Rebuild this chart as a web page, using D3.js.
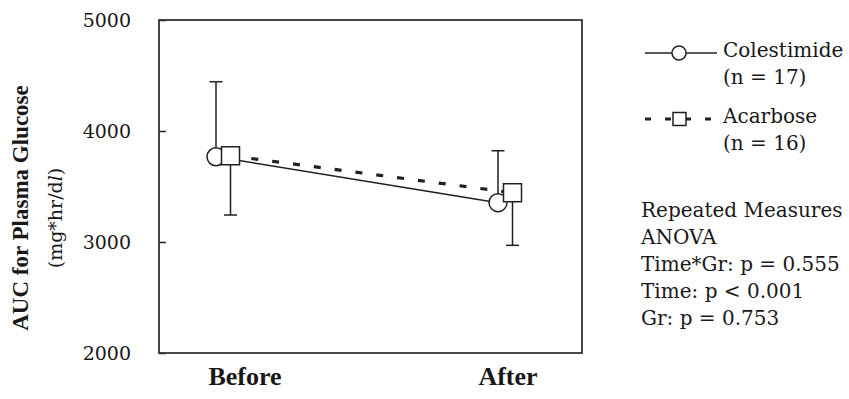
<!DOCTYPE html>
<html>
<head>
<meta charset="utf-8">
<script src="https://cdn.jsdelivr.net/npm/d3@7"></script>
<style>
  body { margin: 0; background: #fff; }
  svg { display: block; }
  text { fill: #1a1718; }
</style>
</head>
<body>
<script>
var times = ["Before", "After"];
var colestimideMean = [3768, 3354];
var colestimideSD = [676, 468];
var acarboseMean = [3777, 3444];
var acarboseSD = [534, 474];
var yTicks = [2000, 3000, 4000, 5000];
var legendLabels = ["Colestimide", "(n = 17)", "Acarbose", "(n = 16)"];
var statLines = ["Repeated Measures", "ANOVA", "Time*Gr: p = 0.555", "Time: p < 0.001", "Gr: p = 0.753"];

var ink = "#231f20";
var serif = "'DejaVu Serif', serif";

function drawChart () {
    var width = 849,
        height = 399;

    var svg = d3.select("body").append("svg")
        .attr("width", width)
        .attr("height", height);

    var left = 159, right = 582, top = 20, bottom = 353;

    var x = d3.scalePoint().domain(times).range([223, 505]);
    var y = d3.scaleLinear().domain([2000, 5000]).range([bottom, top]);

    // series: circle sits a bit left, square a bit right
    var series = [
        { name: "colestimide", mean: colestimideMean, sd: colestimideSD, dx: -7, dir: 1 },
        { name: "acarbose", mean: acarboseMean, sd: acarboseSD, dx: 7.5, dir: -1 }
    ];
    series.forEach(function (s) {
        s.points = times.map(function (t, i) {
            return { t: t, x: x(t) + s.dx, m: s.mean[i], e: s.mean[i] + s.dir * s.sd[i] };
        });
    });

    // y axis, ticks inward
    var yAxis = svg.append("g")
        .attr("transform", "translate(" + left + ",0)")
        .call(d3.axisLeft(y).tickValues(yTicks).tickFormat(d3.format("d")).tickSize(-7).tickPadding(28));
    yAxis.select(".domain").remove();
    yAxis.selectAll("line").attr("stroke", ink).attr("stroke-width", 1.5);
    yAxis.selectAll("text")
        .style("font-family", serif)
        .style("font-size", "19px")
        .attr("fill", "#1a1718");

    // frame
    svg.append("rect")
        .attr("x", left).attr("y", top)
        .attr("width", right - left).attr("height", bottom - top)
        .attr("fill", "none")
        .attr("stroke", "#333")
        .attr("stroke-width", 1.8);

    // category labels
    var labelNudge = { "Before": 22, "After": 3 };
    svg.selectAll(".xlab")
        .data(times)
        .enter().append("text")
        .attr("class", "xlab")
        .attr("x", function (d) { return x(d) + labelNudge[d]; })
        .attr("y", 385)
        .attr("text-anchor", "middle")
        .style("font-family", "'Liberation Serif', serif")
        .style("font-weight", "bold")
        .style("font-size", "26px")
        .text(function (d) { return d; });

    // y title
    svg.append("text")
        .attr("transform", "translate(28,208) rotate(-90)")
        .attr("text-anchor", "middle")
        .style("font-family", "'Liberation Serif', serif")
        .style("font-weight", "bold")
        .style("font-size", "23px")
        .text("AUC for  Plasma Glucose");
    var unit = svg.append("text")
        .attr("transform", "translate(62,218) rotate(-90)")
        .attr("text-anchor", "middle")
        .style("font-family", serif)
        .style("font-size", "19px");
    unit.append("tspan").text("(mg*hr/d");
    unit.append("tspan").style("font-style", "italic").text("l");
    unit.append("tspan").text(")");

    // error bars
    series.forEach(function (s) {
        var g = svg.append("g").attr("class", "err-" + s.name);
        g.selectAll(".stem")
            .data(s.points)
            .enter().append("line")
            .attr("x1", function (d) { return d.x; })
            .attr("x2", function (d) { return d.x; })
            .attr("y1", function (d) { return y(d.m); })
            .attr("y2", function (d) { return y(d.e); })
            .attr("stroke", ink).attr("stroke-width", 1.5);
        g.selectAll(".cap")
            .data(s.points)
            .enter().append("line")
            .attr("x1", function (d) { return d.x - 6.5; })
            .attr("x2", function (d) { return d.x + 6.5; })
            .attr("y1", function (d) { return y(d.e); })
            .attr("y2", function (d) { return y(d.e); })
            .attr("stroke", ink).attr("stroke-width", 1.5);
    });

    var line = d3.line()
        .x(function (d) { return d.x; })
        .y(function (d) { return y(d.m); });

    svg.append("path")
        .datum(series[0].points)
        .attr("d", line)
        .attr("fill", "none")
        .attr("stroke", ink)
        .attr("stroke-width", 1.4);

    svg.append("path")
        .datum(series[1].points)
        .attr("d", line)
        .attr("fill", "none")
        .attr("stroke", ink)
        .attr("stroke-width", 3.2)
        .attr("stroke-dasharray", "7,14");

    // markers
    svg.selectAll(".circ")
        .data(series[0].points)
        .enter().append("circle")
        .attr("cx", function (d) { return d.x; })
        .attr("cy", function (d) { return y(d.m); })
        .attr("r", 9)
        .attr("fill", "#fff")
        .attr("stroke", ink)
        .attr("stroke-width", 1.5);

    svg.selectAll(".sq")
        .data(series[1].points)
        .enter().append("rect")
        .attr("x", function (d) { return d.x - 9; })
        .attr("y", function (d) { return y(d.m) - 9; })
        .attr("width", 18)
        .attr("height", 18)
        .attr("fill", "#fff")
        .attr("stroke", ink)
        .attr("stroke-width", 1.5);

    // legend
    var lg = svg.append("g");
    lg.append("line")
        .attr("x1", 645).attr("x2", 717).attr("y1", 53).attr("y2", 53)
        .attr("stroke", ink).attr("stroke-width", 1.4);
    lg.append("circle")
        .attr("cx", 679).attr("cy", 53).attr("r", 7)
        .attr("fill", "#fff").attr("stroke", ink).attr("stroke-width", 1.5);
    lg.append("line")
        .attr("x1", 645).attr("x2", 717).attr("y1", 119).attr("y2", 119)
        .attr("stroke", ink).attr("stroke-width", 3)
        .attr("stroke-dasharray", "6,14");
    lg.append("rect")
        .attr("x", 673).attr("y", 112.5).attr("width", 13).attr("height", 13)
        .attr("fill", "#fff").attr("stroke", ink).attr("stroke-width", 1.5);

    var legendY = [57, 84, 123, 150];
    lg.selectAll("text")
        .data(legendLabels)
        .enter().append("text")
        .attr("x", 723)
        .attr("y", function (d, i) { return legendY[i]; })
        .style("font-family", serif)
        .style("font-size", "20px")
        .text(function (d) { return d; });

    // stats note
    svg.selectAll(".stat")
        .data(statLines)
        .enter().append("text")
        .attr("class", "stat")
        .attr("x", 641)
        .attr("y", function (d, i) { return 216.5 + i * 27.2; })
        .style("font-family", serif)
        .style("font-size", "20px")
        .text(function (d) { return d; });
}

drawChart();
</script>
</body>
</html>
